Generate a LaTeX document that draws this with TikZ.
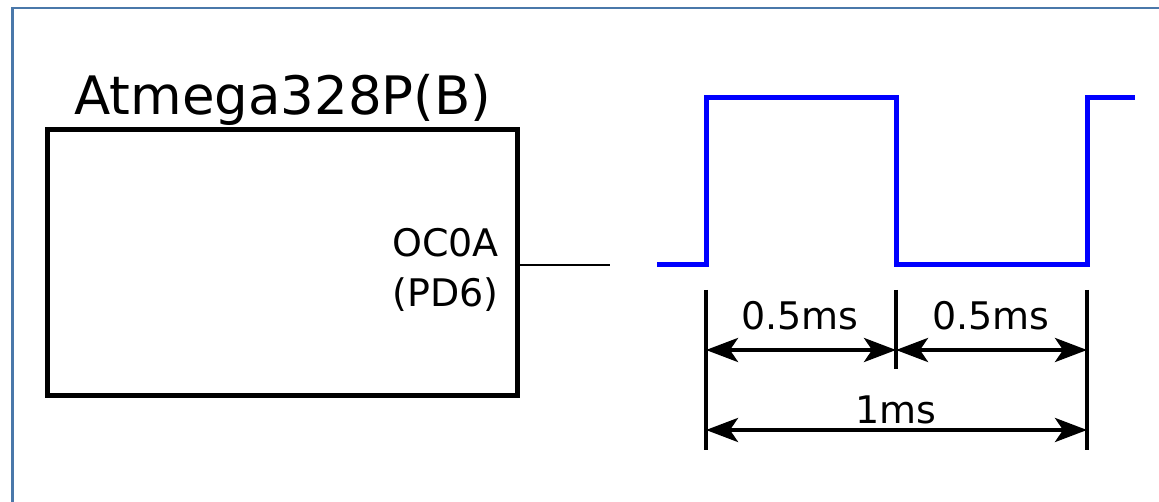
\documentclass[tikz,border=0pt]{standalone}
\usepackage{fontspec}
\setmainfont{DejaVu Sans}
\usetikzlibrary{arrows.meta}
\definecolor{framecol}{RGB}{74,120,170}
\definecolor{wavecol}{RGB}{0,0,255}

\begin{document}
\begin{tikzpicture}[x=1pt,y=-1pt,
    dimtip/.tip={Stealth[length=32pt,width=24pt,inset=8pt]},
    dimline/.style={line width=4pt,dimtip-dimtip},
    tickline/.style={line width=4pt},
    biglabel/.style={font=\fontsize{53}{60}\selectfont,inner sep=0pt},
    smalllabel/.style={font=\fontsize{38}{42}\selectfont,inner sep=0pt}]
  \useasboundingbox (0,0) rectangle (1159,502);
  \clip (0,0) rectangle (1159,502);
  \draw[framecol,line width=2.5pt] (12.5,8) rectangle (1180,520);

  % microcontroller
  \node[draw,line width=5pt,minimum width=470pt,minimum height=265pt,inner sep=0pt] (mcu) at (282,262.5) {};
  \node[biglabel,anchor=base] (title) at (283,115) {Atmega328P(B)};
  \node[smalllabel,anchor=base east] (pin) at (499,257) {OC0A};
  \node[smalllabel,anchor=base east] (port) at (499,307) {(PD6)};

  \coordinate (pinend) at (610,265);
  \draw[line width=2pt] (mcu.east |- pinend) -- (pinend);

  % square wave
  \draw[wavecol,line width=5pt,line join=miter]
    (657,265) -- (706,265) -- (706,98) -- (896,98) -- (896,265)
    -- (1087,265) -- (1087,98) -- (1135,98);

  % timing marks
  \coordinate (ta) at (706,290);
  \coordinate (tb) at (896,290);
  \coordinate (tc) at (1087,290);
  \draw[tickline] (ta) -- ++(0,160);
  \draw[tickline] (tb) -- ++(0,79);
  \draw[tickline] (tc) -- ++(0,160);

  \draw[dimline] (ta |- 0,350) -- (tb |- 0,350);
  \draw[dimline] (tb |- 0,350) -- (tc |- 0,350);
  \draw[dimline] (ta |- 0,430) -- (tc |- 0,430);

  \node[smalllabel,anchor=base] (half1) at (800,330) {0.5ms};
  \node[smalllabel,anchor=base] (half2) at (991,330) {0.5ms};
  \node[smalllabel,anchor=base] (full) at (896,423) {1ms};
\end{tikzpicture}
\end{document}
